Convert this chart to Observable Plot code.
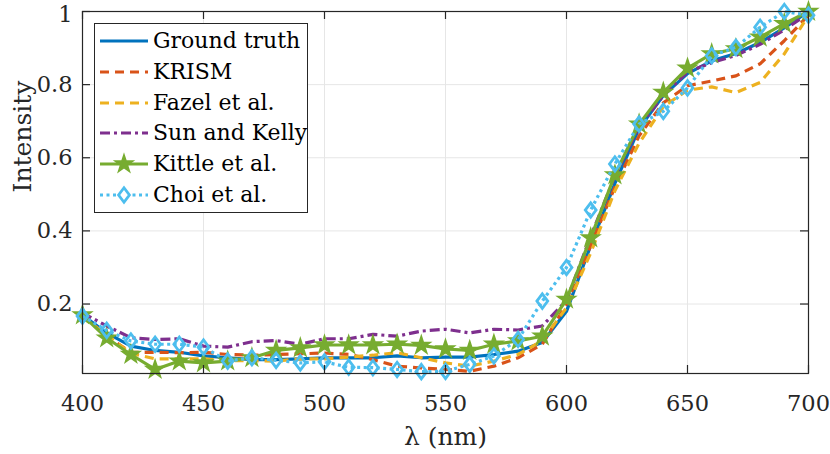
<!DOCTYPE html>
<html><head><meta charset="utf-8">
<script src="https://cdn.jsdelivr.net/npm/d3@7"></script>
<script src="https://cdn.jsdelivr.net/npm/@observablehq/plot@0.6"></script>
<style>
body{margin:0;background:#fff;}
#wrap{position:relative;width:830px;height:454px;font-family:"DejaVu Serif",serif;}
#legend{position:absolute;left:94px;top:23px;width:214px;height:190px;border:1px solid #262626;background:#fff;box-sizing:border-box;}
.row{position:absolute;left:0;height:30px;display:flex;align-items:center;}
.row span{font-size:22px;color:#000;white-space:nowrap;margin-left:1px;line-height:30px;}
</style></head><body><div id="wrap"></div>
<script>
const wavelength = [400,410,420,430,440,450,460,470,480,490,500,510,520,530,540,550,560,570,580,590,600,610,620,630,640,650,660,670,680,690,700];
const groundTruth = [0.170,0.121,0.085,0.073,0.068,0.058,0.053,0.048,0.048,0.050,0.053,0.053,0.053,0.058,0.053,0.055,0.055,0.062,0.071,0.095,0.180,0.360,0.530,0.680,0.770,0.830,0.865,0.885,0.915,0.955,1.000];
const krism = [0.170,0.112,0.068,0.068,0.067,0.068,0.062,0.060,0.062,0.064,0.066,0.062,0.048,0.030,0.025,0.021,0.016,0.030,0.053,0.090,0.200,0.360,0.520,0.660,0.750,0.797,0.810,0.824,0.857,0.920,0.990];
const fazel = [0.165,0.115,0.065,0.050,0.050,0.050,0.045,0.045,0.044,0.050,0.050,0.055,0.060,0.067,0.053,0.039,0.030,0.044,0.062,0.100,0.190,0.340,0.510,0.640,0.740,0.785,0.794,0.778,0.806,0.884,0.990];
const sunKelly = [0.176,0.140,0.108,0.103,0.105,0.085,0.082,0.097,0.100,0.090,0.105,0.105,0.117,0.112,0.126,0.131,0.121,0.131,0.129,0.140,0.210,0.385,0.550,0.685,0.770,0.835,0.860,0.880,0.910,0.950,0.995];
const kittle = [0.170,0.107,0.062,0.021,0.044,0.039,0.044,0.053,0.073,0.080,0.088,0.088,0.088,0.090,0.087,0.077,0.073,0.090,0.099,0.112,0.213,0.381,0.553,0.692,0.779,0.845,0.884,0.898,0.930,0.967,1.000];
const choi = [0.167,0.128,0.099,0.090,0.090,0.082,0.044,0.053,0.046,0.039,0.042,0.027,0.026,0.021,0.015,0.016,0.035,0.058,0.103,0.208,0.300,0.457,0.583,0.692,0.727,0.791,0.879,0.902,0.957,1.000,0.990];
const seriesNames = ["Ground truth","KRISM","Fazel et al.","Sun and Kelly","Kittle et al.","Choi et al."];
const xTicks = [400,450,500,550,600,650,700];
const yTicks = [0.2,0.4,0.6,0.8,1];
const yTickLabels = ["0.2","0.4","0.6","0.8","1"];

const seriesValues = [groundTruth, krism, fazel, sunKelly, kittle, choi];
const colors = ["#0072BD","#D95319","#EDB120","#7E2F8E","#77AC30","#4DBEEE"];
const dashes = [null,"9,6","9,6","10,4,3,4",null,"3,3.5"];
const markers = [null,null,null,null,"star","diamond"];

const matDiamond = {
  draw(context, size) {
    const a = Math.sqrt(size / 1.5), b = 0.75 * a;
    context.moveTo(0, -a); context.lineTo(b, 0); context.lineTo(0, a); context.lineTo(-b, 0); context.closePath();
  }
};

const rows = seriesValues.map((vals, i) => wavelength.map((w, j) => ({lambda: w, value: vals[j], s: seriesNames[i]})));

const W = 830, H = 454, mL = 82, mR = 22, mT = 11, mB = 81;
const innerW = W - mL - mR, innerH = H - mT - mB, tk = 8;
const FONT = '"DejaVu Serif",serif';
const yFmt = d => yTickLabels[yTicks.indexOf(d)];

const marks = [
  Plot.gridX(xTicks, {stroke: "#e6e6e6", strokeOpacity: 1, strokeWidth: 1}),
  Plot.gridY(yTicks, {stroke: "#e6e6e6", strokeOpacity: 1, strokeWidth: 1}),
];
rows.forEach((r, i) => {
  marks.push(Plot.line(r, {x: "lambda", y: "value", stroke: colors[i], strokeWidth: 3.2,
    strokeDasharray: dashes[i] || undefined, strokeLinejoin: "round", strokeLinecap: dashes[i] ? "butt" : "round"}));
  if (markers[i] === "star") {
    marks.push(Plot.dot(r, {x: "lambda", y: "value", symbol: "star", r: 5.6, fill: colors[i], stroke: colors[i], strokeWidth: 1.5}));
  } else if (markers[i] === "diamond") {
    marks.push(Plot.dot(r, {x: "lambda", y: "value", symbol: matDiamond, r: 5.0, fill: "none", stroke: colors[i], strokeWidth: 2.8}));
  }
});
marks.push(
  Plot.frame({stroke: "#262626", strokeWidth: 1.2}),
  Plot.tickX(xTicks, {x: d => d, insetTop: innerH - tk, stroke: "#262626", strokeWidth: 1.2}),
  Plot.tickX(xTicks, {x: d => d, insetBottom: innerH - tk, stroke: "#262626", strokeWidth: 1.2}),
  Plot.tickY(yTicks, {y: d => d, insetRight: innerW - tk, stroke: "#262626", strokeWidth: 1.2}),
  Plot.tickY(yTicks, {y: d => d, insetLeft: innerW - tk, stroke: "#262626", strokeWidth: 1.2}),
  Plot.axisX({ticks: xTicks, tickSize: 0, tickPadding: 22, fontSize: 22.5, label: null, fill: "#262626"}),
  Plot.axisY({ticks: yTicks.slice(0, -1), tickSize: 0, tickPadding: 10, fontSize: 22.5, label: null, fill: "#262626", tickFormat: yFmt}),
  Plot.axisY({ticks: yTicks.slice(-1), tickSize: 0, tickPadding: 10, fontSize: 22.5, label: null, fill: "#262626", tickFormat: yFmt, dy: 3}),
  Plot.text(["Intensity"], {frameAnchor: "left", dx: -60, rotate: -90, fontSize: 25, fill: "#262626", lineAnchor: "middle"}),
  Plot.text(["λ (nm)"], {frameAnchor: "bottom", dy: 63, fontSize: 25, fill: "#262626", lineAnchor: "middle"})
);

const chart = Plot.plot({
  width: W, height: H, marginLeft: mL, marginRight: mR, marginTop: mT, marginBottom: mB,
  x: {domain: [400, 700]},
  y: {domain: [0.01, 1]},
  style: {fontFamily: FONT, background: "#fff", color: "#262626", overflow: "visible"},
  marks
});
const wrap = document.getElementById("wrap");
wrap.appendChild(chart);

const legend = document.createElement("div");
legend.id = "legend";
seriesNames.forEach((name, i) => {
  const row = document.createElement("div");
  row.className = "row";
  row.style.top = (2 + 30.8 * i) + "px";
  const svg = d3.create("svg").attr("width", 57).attr("height", 30);
  svg.append("line").attr("x1", 5).attr("x2", 53).attr("y1", 15).attr("y2", 15)
    .attr("stroke", colors[i]).attr("stroke-width", 3.2)
    .attr("stroke-dasharray", dashes[i] || null);
  if (markers[i] === "star") {
    svg.append("path").attr("transform", "translate(29,15)")
      .attr("d", d3.symbol(d3.symbolStar, Math.PI * 5.6 * 5.6)())
      .attr("fill", colors[i]).attr("stroke", colors[i]).attr("stroke-width", 1.5);
  } else if (markers[i] === "diamond") {
    svg.append("path").attr("transform", "translate(29,15)")
      .attr("d", d3.symbol(matDiamond, Math.PI * 25)())
      .attr("fill", "#fff").attr("stroke", colors[i]).attr("stroke-width", 2.8);
  }
  row.appendChild(svg.node());
  const span = document.createElement("span");
  span.textContent = name;
  row.appendChild(span);
  legend.appendChild(row);
});
wrap.appendChild(legend);
</script>
</body></html>
